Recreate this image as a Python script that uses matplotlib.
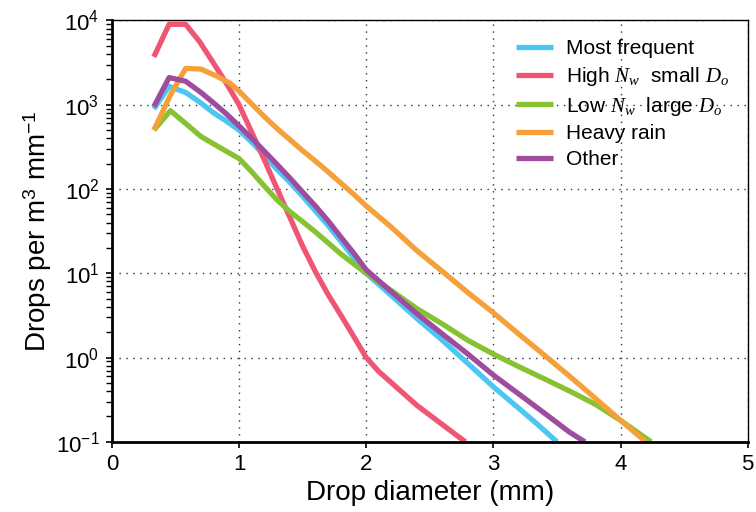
import numpy as np
import matplotlib
matplotlib.use("Agg")
import matplotlib.pyplot as plt

plt.rcParams['font.family'] = ['Liberation Sans', 'DejaVu Sans']
plt.rcParams['mathtext.fontset'] = 'custom'
plt.rcParams['mathtext.rm'] = 'Liberation Sans'
plt.rcParams['mathtext.it'] = 'Liberation Serif:italic'
plt.rcParams['mathtext.bf'] = 'Liberation Sans:bold'

# drop size distributions per cluster (diameter in mm, concentration per m^3 per mm)
d_most = [0.33, 0.45, 0.58, 0.7, 0.8, 0.9, 1.0, 1.1, 1.2, 1.3, 1.4, 1.5, 1.6, 1.7,
          1.8, 1.9, 2.0, 2.2, 2.4, 2.6, 2.8, 3.0, 3.2, 3.35, 3.5]
n_most = [890, 1650, 1400, 1050, 800, 640, 500, 360, 250, 170, 120, 82, 55, 37,
          24, 15.5, 10, 5.4, 2.9, 1.6, 0.85, 0.45, 0.25, 0.16, 0.1]

d_high = [0.33, 0.45, 0.58, 0.69, 0.8, 0.9, 1.0, 1.1, 1.2, 1.3, 1.4, 1.5, 1.6, 1.7,
          1.8, 1.9, 2.0, 2.1, 2.2, 2.4, 2.6, 2.78]
n_high = [3700, 9000, 9000, 5600, 3100, 1800, 1000, 470, 220, 100, 46, 21, 10.5, 5.6,
          3.2, 1.8, 1.0, 0.68, 0.5, 0.27, 0.16, 0.1]

d_low = [0.33, 0.46, 0.58, 0.7, 0.85, 1.0, 1.1, 1.2, 1.3, 1.4, 1.5, 1.6, 1.7, 1.8,
         1.9, 2.0, 2.2, 2.4, 2.6, 2.8, 3.0, 3.2, 3.4, 3.6, 3.8, 4.0, 4.24]
n_low = [500, 850, 600, 420, 310, 230, 160, 108, 74, 54, 41, 31, 23, 17,
         13, 10, 6.2, 3.8, 2.5, 1.6, 1.1, 0.78, 0.56, 0.4, 0.28, 0.18, 0.1]

d_heavy = [0.33, 0.46, 0.58, 0.7, 0.82, 0.93, 1.0, 1.1, 1.2, 1.3, 1.4, 1.5, 1.6, 1.7,
           1.8, 1.9, 2.0, 2.2, 2.4, 2.6, 2.8, 3.0, 3.2, 3.4, 3.6, 3.8, 4.0, 4.2]
n_heavy = [500, 1300, 2700, 2650, 2200, 1800, 1450, 1020, 720, 520, 385, 285, 215, 160,
           118, 87, 63, 35, 18.5, 10.5, 5.9, 3.4, 1.9, 1.07, 0.6, 0.33, 0.18, 0.1]

d_other = [0.33, 0.45, 0.58, 0.7, 0.8, 0.9, 1.0, 1.1, 1.2, 1.3, 1.4, 1.5, 1.6, 1.7,
           1.8, 1.9, 2.0, 2.2, 2.4, 2.6, 2.8, 3.0, 3.2, 3.4, 3.6, 3.72]
n_other = [950, 2100, 1900, 1400, 1050, 780, 560, 400, 280, 195, 135, 92, 63, 42,
           27, 17.5, 11, 6, 3.3, 1.9, 1.1, 0.62, 0.37, 0.22, 0.13, 0.1]

labels = ["Most frequent",
          r"High $N_w$  small $D_o$",
          r"Low $N_w$  large $D_o$",
          "Heavy rain",
          "Other"]
colors = ["#4cc6f2", "#ee5674", "#86c232", "#f6a03a", "#9e4c9e"]

fig = plt.figure(figsize=(7.56, 5.12), dpi=100)
ax = fig.add_axes([0.148, 0.137, 0.841, 0.823])

series = [(d_most, n_most), (d_high, n_high), (d_low, n_low),
          (d_heavy, n_heavy), (d_other, n_other)]
for (d, n), lab, c in zip(series, labels, colors):
    ax.plot(d, n, color=c, lw=3.8, label=lab, solid_capstyle='butt',
            solid_joinstyle='round')

ax.set_yscale('log')
ax.set_xlim(0, 5)
ax.set_ylim(0.1, 1e4)
ax.set_xticks([0, 1, 2, 3, 4, 5])

ax.grid(True, which='major', color='#333333', linestyle=(0, (1, 4)), lw=1.0)
ax.tick_params(which='major', direction='out', length=4, width=1.2, labelsize=16, pad=5)
ax.tick_params(which='minor', direction='out', length=4, width=1.0)
ax.tick_params(axis='x', which='minor', bottom=False)

for side in ['left', 'bottom']:
    ax.spines[side].set_linewidth(2.0)
for side in ['top', 'right']:
    ax.spines[side].set_linewidth(1.0)

ax.set_xlabel("Drop diameter (mm)", fontsize=20, labelpad=3)
ax.set_ylabel(r"Drops per m$^3$ mm$^{-1}$", fontsize=20, labelpad=1)

leg = ax.legend(loc='upper right', frameon=False, fontsize=15, handlelength=1.8,
                handletextpad=0.6, labelspacing=0.32, borderaxespad=0.5)

fig.savefig("out.png", dpi=100)
